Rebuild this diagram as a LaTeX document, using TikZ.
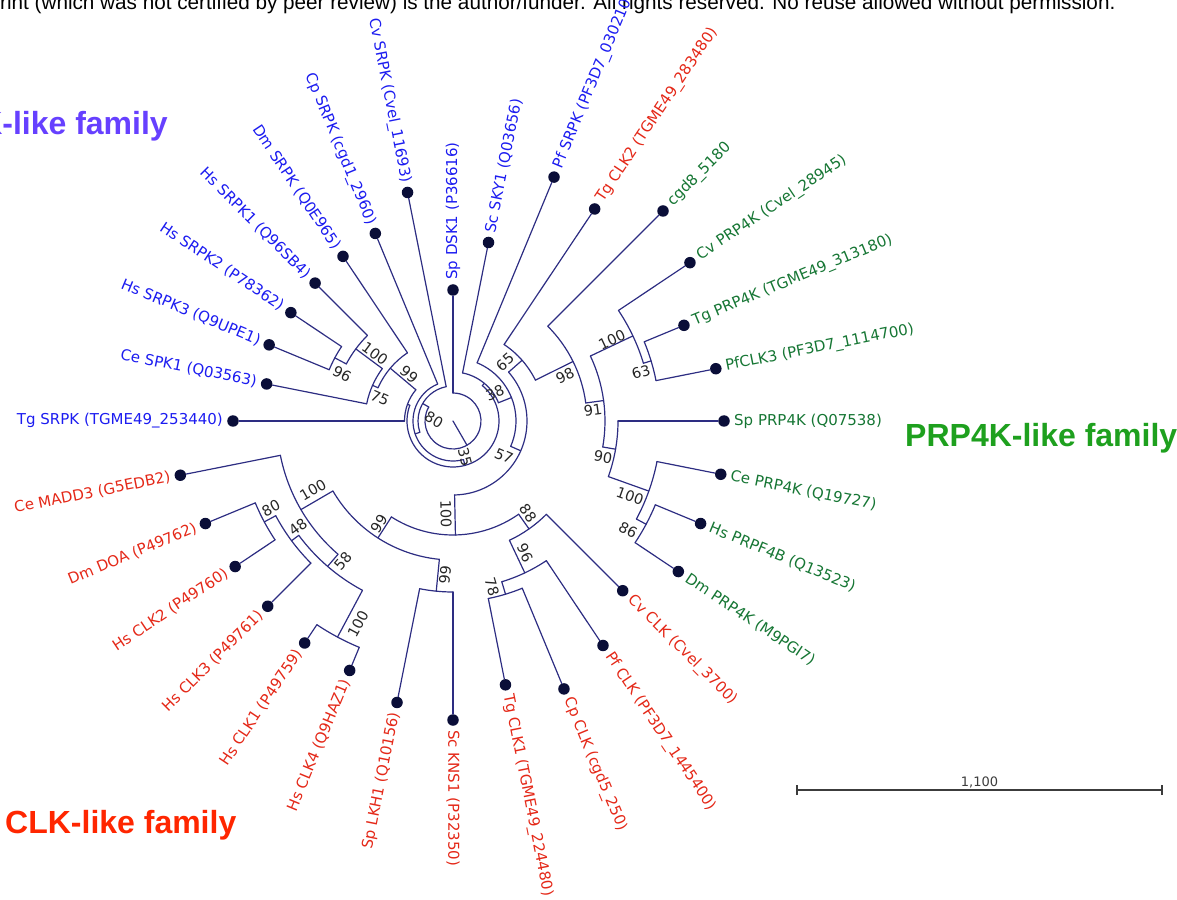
\documentclass[tikz,border=0pt]{standalone}
\usepackage{fontspec}
\setmainfont{DejaVu Sans}
\newfontfamily\famfont{Liberation Sans}
\usetikzlibrary{positioning}
\definecolor{branchcol}{RGB}{45,45,130}
\definecolor{dotcol}{RGB}{10,14,56}
\definecolor{srpkcol}{RGB}{28,28,240}
\definecolor{prpcol}{RGB}{22,118,52}
\definecolor{clkcol}{RGB}{228,40,24}
\definecolor{srpkfam}{RGB}{102,64,255}
\definecolor{prpfam}{RGB}{30,160,30}
\definecolor{clkfam}{RGB}{255,38,0}
\definecolor{barcol}{RGB}{60,60,60}

\begin{document}
\begin{tikzpicture}[x=1pt, y=1pt,
        branch/.style={draw=branchcol, line width=1.2pt, line cap=round},
        tip/.style={circle, fill=dotcol, inner sep=0pt, minimum size=11.5pt},
        leaflab/.style={inner sep=0pt, font=\fontsize{15}{17}\selectfont},
        support/.style={inner sep=0pt, text=black!85, font=\fontsize{14.5}{16}\selectfont},
        family/.style={inner sep=0pt, font=\famfont\bfseries\fontsize{32}{36}\selectfont},
        scalebar/.style={draw=barcol, line width=1.1pt}]
        \useasboundingbox (-453,-478) rectangle (724,421);

        \node[anchor=base west, inner sep=0pt, font=\famfont\fontsize{20.7}{24}\selectfont] (header) at (-453,411) {rint (which was not certified by peer review) is the author/funder. All rights reserved. No reuse allowed without permission.};

        \foreach \i/\r/\nm/\col/\txt in {8/131/spdsk1/srpkcol/{Sp DSK1 (P36616)}, 9/182/scsky1/srpkcol/{Sc SKY1 (Q03656)},
                10/264/pfsrpk/srpkcol/{Pf SRPK (PF3D7\_0302100)}, 11/255/tgclk2/clkcol/{Tg CLK2 (TGME49\_283480)},
                12/297/cgd8/prpcol/{cgd8\_5180}, 13/285/cvprp4k/prpcol/{Cv PRP4K (Cvel\_28945)},
                14/250/tgprp4k/prpcol/{Tg PRP4K (TGME49\_313180)}, 15/268/pfclk3/prpcol/{PfCLK3 (PF3D7\_1114700)},
                16/271/spprp4k/prpcol/{Sp PRP4K (Q07538)}, 17/273/ceprp4k/prpcol/{Ce PRP4K (Q19727)},
                18/268/hsprpf4b/prpcol/{Hs PRPF4B (Q13523)}, 19/271/dmprp4k/prpcol/{Dm PRP4K (M9PGI7)},
                20/240/cvclk/clkcol/{Cv CLK (Cvel\_3700)}, 21/270/pfclk/clkcol/{Pf CLK (PF3D7\_1445400)},
                22/290/cpclk/clkcol/{Cp CLK (cgd5\_250)}, 23/269/tgclk1/clkcol/{Tg CLK1 (TGME49\_224480)},
                24/299/sckns1/clkcol/{Sc KNS1 (P32350)}} {
            \pgfmathsetmacro{\a}{180-11.25*\i}
            \node[tip] (\nm) at (\a:\r) {};
            \node[leaflab, text=\col, rotate=\a, anchor=west] at ({\a}:{\r+10}) {\txt};
        }
        \foreach \i/\r/\nm/\col/\txt in {0/220/tgsrpk/srpkcol/{Tg SRPK (TGME49\_253440)}, 1/190/cespk1/srpkcol/{Ce SPK1 (Q03563)},
                2/199/hssrpk3/srpkcol/{Hs SRPK3 (Q9UPE1)}, 3/195/hssrpk2/srpkcol/{Hs SRPK2 (P78362)},
                4/195/hssrpk1/srpkcol/{Hs SRPK1 (Q96SB4)}, 5/198/dmsrpk/srpkcol/{Dm SRPK (Q0E965)},
                6/203/cpsrpk/srpkcol/{Cp SRPK (cgd1\_2960)}, 7/233/cvsrpk/srpkcol/{Cv SRPK (Cvel\_11693)},
                25/287/splkh1/clkcol/{Sp LKH1 (Q10156)}, 26/270/hsclk4/clkcol/{Hs CLK4 (Q9HAZ1)},
                27/267/hsclk1/clkcol/{Hs CLK1 (P49759)}, 28/262/hsclk3/clkcol/{Hs CLK3 (P49761)},
                29/262/hsclk2/clkcol/{Hs CLK2 (P49760)}, 30/268/dmdoa/clkcol/{Dm DOA (P49762)},
                31/278/cemadd3/clkcol/{Ce MADD3 (G5EDB2)}} {
            \pgfmathsetmacro{\a}{180-11.25*\i}
            \node[tip] (\nm) at (\a:\r) {};
            \node[leaflab, text=\col, rotate=\a+180, anchor=east] at ({\a}:{\r+10}) {\txt};
        }

        \coordinate (root) at (0,0);
        \foreach \nm/\a/\r in {nroot/-59.98/28, nq/150.03/35, np2/198.82/40, np/-74.86/46, na/159.96/48.5,
                nb/50.32/49, n99s/139.92/82, n75/156.09/88, n100s/143.44/121, n96/151.875/134,
                n38/21.88/63, n57/-23.73/74, n65/41.31/92, n98/26.37/134, n91/7.73/152,
                n100p/25.31/199, n63/16.875/207, n90/-9.84/165, n100q/-19.69/208, n86/-28.125/219,
                n100c/-88.77/114, n88/-54.84/132, n96c/-64.69/168, n78/-73.125/181, n99c/-122.70/139,
                n99b/-95.625/171, n100b/-149.77/176, n58/-130.78/192, n48/-143.44/201, n80c/-151.875/214,
                n100d/-118.125/245}
            \coordinate (\nm) at (\a:\r);

        \draw[branch] (root) -- (nroot);
        \foreach \ch/\a/\r in {nq/150.03/28, np2/198.82/35, np/-74.86/40, na/159.96/46, nb/50.32/46,
                n99s/139.92/48.5, n75/156.09/82, n100s/143.44/88, n96/151.875/121, n38/21.88/49,
                n57/-23.73/63, n65/41.31/74, n100c/-88.77/74, n98/26.37/92, n91/7.73/134,
                n100p/25.31/152, n63/16.875/199, n90/-9.84/152, n100q/-19.69/165, n86/-28.125/208,
                n88/-54.84/114, n96c/-64.69/132, n78/-73.125/168, n99c/-122.70/114, n99b/-95.625/139,
                n100b/-149.77/139, n58/-130.78/176, n48/-143.44/192, n80c/-151.875/201, n100d/-118.125/192,
                tgsrpk/180/48.5, cespk1/168.75/88, hssrpk3/157.5/134, hssrpk2/146.25/134, hssrpk1/135/121,
                dmsrpk/123.75/82, cpsrpk/112.5/40, cvsrpk/101.25/35, spdsk1/90/28, scsky1/78.75/49,
                pfsrpk/67.5/63, tgclk2/56.25/92, cgd8/45/134, cvprp4k/33.75/199, tgprp4k/22.5/207,
                pfclk3/11.25/207, spprp4k/0/165, ceprp4k/-11.25/208, hsprpf4b/-22.5/219, dmprp4k/-33.75/219,
                cvclk/-45/132, pfclk/-56.25/168, cpclk/-67.5/181, tgclk1/-78.75/181, sckns1/-90/171,
                splkh1/-101.25/171, hsclk4/-112.5/245, hsclk1/-123.75/245, hsclk3/-135/201, hsclk2/-146.25/214,
                dmdoa/-157.5/214, cemadd3/-168.75/176} {
            \coordinate (\ch-b) at (\a:\r);
            \draw[branch] (\ch-b) -- (\ch);
        }
        \foreach \r/\s/\e in {28/150.03/450, 35/101.25/198.82, 40/112.5/285.14, 46/159.96/410.32, 48.5/139.92/180,
                49/21.88/78.75, 82/123.75/156.09, 88/143.44/168.75, 121/135/151.875, 134/146.25/157.5,
                63/-23.73/67.5, 74/-88.77/41.31, 92/26.37/56.25, 134/7.73/45, 152/-9.84/25.31,
                199/16.875/33.75, 207/11.25/22.5, 165/-19.69/0, 208/-28.125/-11.25, 219/-33.75/-22.5,
                114/-122.70/-54.84, 132/-64.69/-45, 168/-73.125/-56.25, 181/-78.75/-67.5, 139/-149.77/-95.625,
                171/-101.25/-90, 176/-168.75/-130.78, 192/-143.44/-118.125, 201/-151.875/-135, 214/-157.5/-146.25,
                245/-123.75/-112.5}
            \draw[branch] (\s:\r) arc[start angle=\s, end angle=\e, radius=\r];

        \foreach \nm/\x/\y/\rot/\val in {lab96a/-111/47/-28.1/96, lab100a/-78/67/-36.6/100, lab75/-73/23/-23.9/75,
                lab99a/-44/47/-40.1/99, lab80a/-19/1/-30/80, lab35/12/-36/-74.9/35, lab38/42/28/21.9/38,
                lab57/51/-35/-23.7/57, lab65/52/59/41.3/65, lab98/112/45/26.4/98, lab91/140/11/7.7/91,
                lab100b/159/81/25.3/100, lab63/188/49/16.9/63, lab90/150/-36/-9.8/90, lab100c/177/-75/-19.7/100,
                lab86/175/-109/-28.1/86, lab100d/-7/-93/-88.8/100, lab99b/-74/-103/57.3/99, lab100e/-140/-69/30.2/100,
                lab80b/-182/-87/28.1/80, lab48/-155/-106/36.6/48, lab58/-110/-140/49.2/58, lab100f/-95/-203/61.9/100,
                lab99c/-8/-154/84.4/99, lab88/75/-92/-54.8/88, lab96b/72/-132/-64.7/96, lab78/39/-166/-73.1/78}
            \node[support, rotate=\rot] (\nm) at (\x,\y) {\val};

        \node[family, text=srpkfam, anchor=base east] (srpkfamily) at (-285,286) {SRPK-like family};
        \node[family, text=prpfam, anchor=base west] (prpfamily) at (452,-25) {PRP4K-like family};
        \node[family, text=clkfam, anchor=base west] (clkfamily) at (-448,-412) {CLK-like family};

        \coordinate (barl) at (344,-369);
        \coordinate (barr) at (709,-369);
        \draw[scalebar] (barl) -- (barr);
        \draw[scalebar] ([yshift=-5pt]barl) -- ([yshift=5pt]barl);
        \draw[scalebar] ([yshift=-5pt]barr) -- ([yshift=5pt]barr);
        \path (barl) -- (barr) node[midway, above=2pt, inner sep=0pt, text=barcol, font=\fontsize{13}{15}\selectfont] (barlabel) {1,100};
    \end{tikzpicture}
\end{document}
